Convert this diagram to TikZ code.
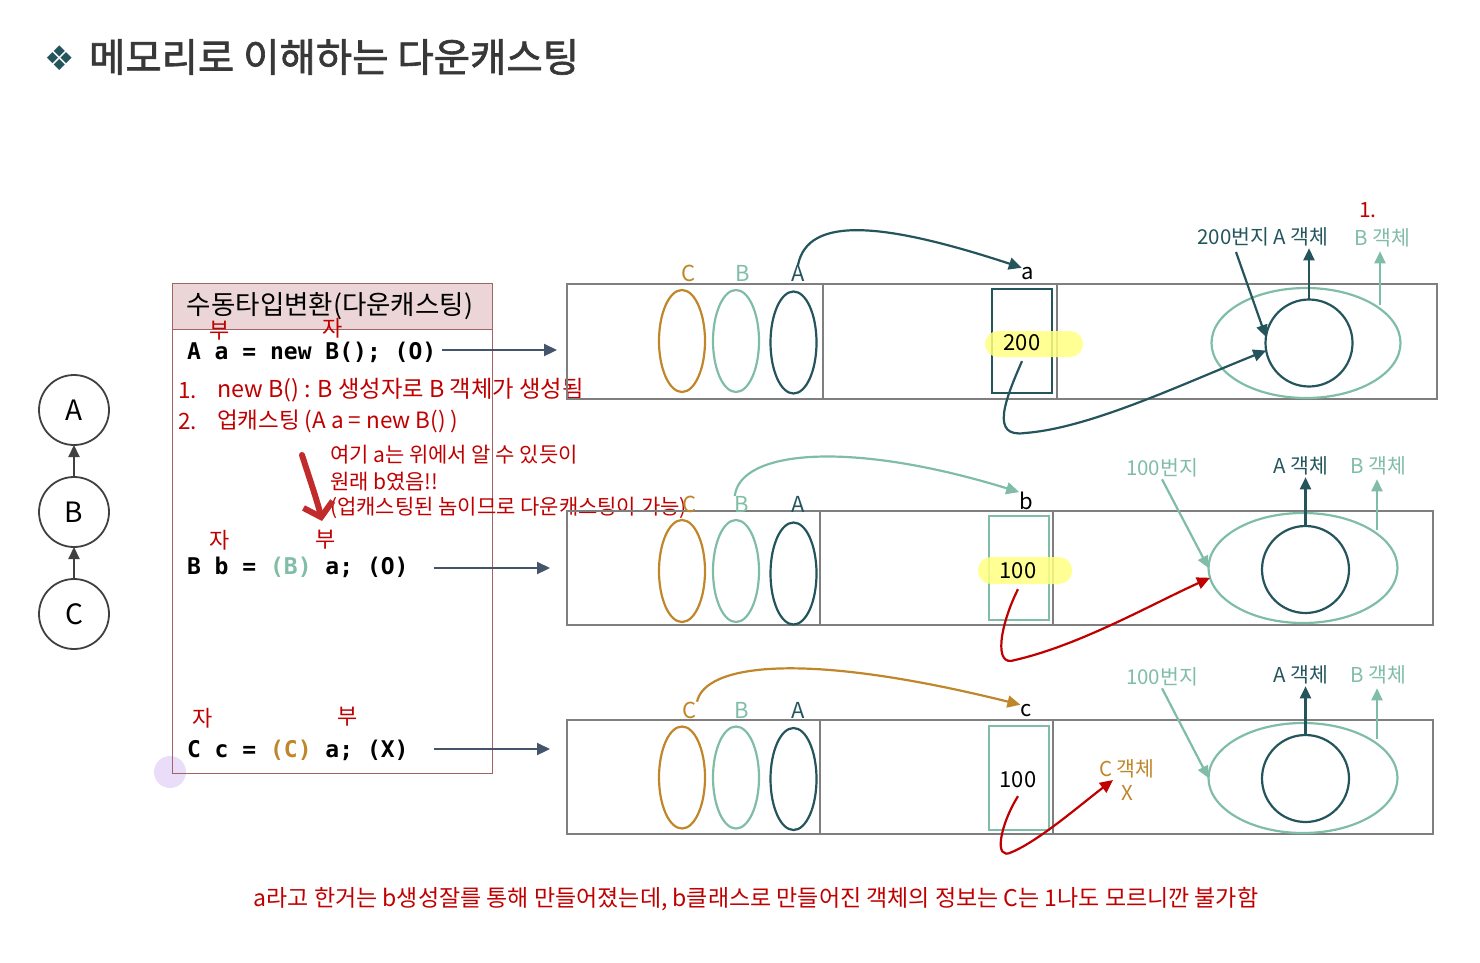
\documentclass[tikz,border=0pt]{standalone}
\usepackage{fontspec}
\setmainfont{Noto Sans CJK KR}
\newfontfamily\titlefont{Noto Sans CJK KR}[FakeBold=1.6]
\newfontfamily\codefont{DejaVu Sans Mono}
\newfontfamily\symfont{DejaVu Sans}
\usetikzlibrary{arrows.meta,shapes.geometric}
\definecolor{tealdk}{HTML}{24555D}
\definecolor{grn}{HTML}{80BDA6}
\definecolor{org}{HTML}{C0862A}
\definecolor{boxgray}{HTML}{7F7F7F}
\definecolor{redt}{HTML}{C00000}
\definecolor{bigred}{HTML}{C22B2B}
\definecolor{codearr}{HTML}{44546A}
\definecolor{pinkfill}{HTML}{EBD5D6}
\definecolor{pinkdraw}{HTML}{A06466}
\definecolor{hlyellow}{HTML}{FFFF80}
\definecolor{lilac}{HTML}{E4D4F8}
\definecolor{titlegray}{HTML}{383838}
\definecolor{hiergray}{HTML}{404040}
\newcommand\myfs[1]{\fontsize{#1}{#1}\selectfont}
\begin{document}
\begin{tikzpicture}[x=1pt,y=-1pt,
 every node/.style={inner sep=0pt,outer sep=0pt},
 memline/.style={draw=boxgray,line width=2.4pt},
 classell/.style={ellipse,draw,line width=2.2pt,minimum width=46pt,minimum height=102pt},
 varbox/.style={draw,line width=2pt,minimum width=60pt,minimum height=104pt},
 objell/.style={ellipse,draw=grn,line width=2.2pt,minimum width=189pt,minimum height=110pt},
 objcirc/.style={circle,draw=tealdk,line width=2.2pt,minimum size=87pt},
 lbl/.style={font=\myfs{22}},
 smlbl/.style={font=\myfs{20.5}},
 redlbl/.style={font=\myfs{22.5},text=redt},
 hl/.style={fill=hlyellow,rounded corners=13pt},
 tiparr/.style={line width=2.2pt,-{Triangle[length=12pt,width=11pt]}},
 curvearr/.style={line width=2.2pt,-{Triangle[length=13pt,width=12pt]}},
 codearrow/.style={draw=codearr,line width=2.2pt,-{Triangle[length=13pt,width=12pt]}},
 code/.style={font=\codefont\bfseries\myfs{23},anchor=west},
 hier/.style={circle,draw=hiergray,line width=1.8pt,minimum size=70pt,font=\myfs{28}},
]
\useasboundingbox (0,0) rectangle (1480,962);

% ---------- title ----------
\node[text=tealdk,font=\symfont\myfs{34}] (diam) at (60,58) {❖};
\node[anchor=west,text=titlegray,font=\titlefont\myfs{39.5}] (title) at (89,57) {메모리로 이해하는 다운캐스팅};

% ---------- hierarchy ----------
\node[hier] (hA) at (74,410) {A};
\node[hier] (hB) at (74,512) {B};
\node[hier] (hC) at (74,614) {C};
\draw[hiergray,tiparr] (hB.north) -- (hA.south);
\draw[hiergray,tiparr] (hC.north) -- (hB.south);

% ---------- code box ----------
\fill[lilac,opacity=0.8] (170,772) circle (16);
\draw[pinkdraw,line width=1pt] (172,283) rectangle (492,773);
\draw[pinkdraw,line width=1pt,fill=pinkfill] (172,283) rectangle (492,329);
\node[font=\myfs{26.5}] (hdr) at (330,306) {수동타입변환(다운캐스팅)};

\node[redlbl,font=\myfs{22}] (bu1) at (220,331) {부};
\node[redlbl,font=\myfs{22}] (ja1) at (333,328) {자};
\node[code] (code1) at (187,352) {A a = new B(); (O)};

\node[redlbl,anchor=west] (n1) at (178,391) {1.};
\node[redlbl,font=\myfs{23.3},anchor=west] (t1) at (217,390) {new B() : B 생성자로 B 객체가 생성됨};
\node[redlbl,anchor=west] (n2) at (178,421) {2.};
\node[redlbl,anchor=west] (t2) at (217,421) {업캐스팅 (A a = new B() )};

\node[redlbl,font=\myfs{21},anchor=west] (r1) at (330,455) {여기 a는 위에서 알 수 있듯이};
\node[redlbl,font=\myfs{21},anchor=west] (r2) at (330,482) {원래 b였음!!};
\node[redlbl,font=\myfs{21},anchor=west] (r3) at (330,508) {(업캐스팅된 놈이므로 다운캐스팅이 가능)};
\coordinate (bigs) at (302,455);
\coordinate (bige) at (322,521);
\draw[bigred,line width=6pt,line cap=round,-{Straight Barb[length=13pt,width=30pt]}] (bigs) .. controls (310,480) and (317,500) .. (bige);

\node[redlbl,font=\myfs{22}] (ja2) at (220,540) {자};
\node[redlbl,font=\myfs{22}] (bu2) at (326,540) {부};
\node[code] (code2) at (187,567) {B b = {\color{grn}(B)} a; (O)};

\node[redlbl,font=\myfs{22}] (ja3) at (203,718) {자};
\node[redlbl,font=\myfs{22}] (bu3) at (348,717) {부};
\node[code] (code3) at (187,750) {C c = {\color{org}(C)} a; (X)};

\coordinate (r1w) at (557,350);
\coordinate (r2w) at (550,568);
\coordinate (r3w) at (550,749);
\draw[codearrow] ([xshift=6pt]code1.east |- r1w) -- (r1w);
\draw[codearrow] ([xshift=25pt]code2.east |- r2w) -- (r2w);
\draw[codearrow] ([xshift=25pt]code3.east |- r3w) -- (r3w);

% ---------- row 1 ----------
\draw[memline] (567,284) rectangle (1437,399);
\draw[memline] (823,284) -- (823,399);
\draw[memline] (1057,284) -- (1057,399);
\node[classell,draw=org] (c1) at (682,341) {};
\node[classell,draw=grn] (b1) at (736,341) {};
\node[classell,draw=tealdk] (a1) at (793.5,342.5) {};
\node[lbl,text=org] (lC1) at (689,273) {C};
\node[lbl,text=grn] (lB1) at (743,273) {B};
\node[lbl,text=tealdk] (lA1) at (798,273) {A};
\node[varbox,draw=tealdk] (va) at (1022,341) {};
\fill[hl,opacity=0.85] (985,331) rectangle (1083,357);
\node[lbl] (v200) at (1022,343) {200};
\node[lbl] (na) at (1028,274) {a};
\node[objell] (e1) at (1306,343) {};
\node[objcirc] (o1) at (1309,343) {};
\node[smlbl,text=tealdk] (l1a) at (1263,237) {200번지 A 객체};
\node[smlbl,text=grn] (l1b) at (1382,238) {B 객체};
\node[redlbl,font=\myfs{21}] (one) at (1368,210) {1.};
\draw[tealdk,tiparr] (o1.north) -- ([yshift=-2pt]o1.north |- l1a.south);
\coordinate (b1s) at (1380,305);
\draw[grn,tiparr] (b1s) -- ([yshift=-4pt]b1s |- l1b.south);
\coordinate (p1s) at (1236,252);
\draw[tealdk,tiparr] (p1s) -- (o1.172);
\draw[tealdk,curvearr] (lA1.north) .. controls +(10,-50) and +(-137,-45) .. (na.north west);
\draw[tealdk,curvearr] ([yshift=-10pt]v200.south) .. controls (1005,400) and (990,438) .. (1025,433)
  .. controls (1090,428) and (1180,385) .. (o1.190);

% ---------- row 2 ----------
\draw[memline] (567,511) rectangle (1433,625);
\draw[memline] (820,511) -- (820,625);
\draw[memline] (1053,511) -- (1053,625);
\node[classell,draw=org] (c2) at (682,571) {};
\node[classell,draw=grn] (b2) at (736,571) {};
\node[classell,draw=tealdk] (a2) at (793.5,573.5) {};
\node[lbl,text=org] (lC2) at (690,504) {C};
\node[lbl,text=grn] (lB2) at (742,504) {B};
\node[lbl,text=tealdk] (lA2) at (798,504) {A};
\node[varbox,draw=grn] (vb) at (1018.5,568) {};
\fill[hl,opacity=0.85] (978,557) rectangle (1072,584);
\node[lbl] (v100b) at (1018,571) {100};
\node[lbl] (nb) at (1026,501) {b};
\node[objell] (e2) at (1303,568) {};
\node[objcirc] (o2) at (1305.5,569.5) {};
\node[smlbl,text=tealdk] (l2a) at (1301,466) {A 객체};
\node[smlbl,text=grn] (l2b) at (1378,466) {B 객체};
\node[smlbl,text=grn] (l2n) at (1162,468) {100번지};
\draw[tealdk,tiparr] (o2.north) -- ([yshift=-2pt]o2.north |- l2a.south);
\coordinate (b2s) at (1377,530);
\draw[grn,tiparr] (b2s) -- ([yshift=-4pt]b2s |- l2b.south);
\draw[grn,tiparr] ([yshift=-2pt]l2n.south) -- (e2.west);
\draw[grn,curvearr] (lB2.north west) .. controls (740,450) and (850,440) .. (nb.north west);
\draw[redt,curvearr] ([yshift=-10pt]v100b.south) .. controls (1000,625) and (993,668) .. (1015,660)
  .. controls (1080,645) and (1150,605) .. (e2.186);

% ---------- row 3 ----------
\draw[memline] (567,720) rectangle (1433,834);
\draw[memline] (820,720) -- (820,834);
\draw[memline] (1053,720) -- (1053,834);
\node[classell,draw=org] (c3) at (682,777.5) {};
\node[classell,draw=grn] (b3) at (736,777.5) {};
\node[classell,draw=tealdk] (a3) at (793.5,779) {};
\node[lbl,text=org] (lC3) at (690,710) {C};
\node[lbl,text=grn] (lB3) at (742,710) {B};
\node[lbl,text=tealdk] (lA3) at (798,710) {A};
\node[varbox,draw=grn] (vc) at (1018.5,777.5) {};
\node[lbl] (v100c) at (1018,780) {100};
\node[lbl] (nc) at (1026,711) {c};
\node[objell] (e3) at (1303,778) {};
\node[objcirc] (o3) at (1305.5,778.5) {};
\node[smlbl,text=tealdk] (l3a) at (1301,675) {A 객체};
\node[smlbl,text=grn] (l3b) at (1378,675) {B 객체};
\node[smlbl,text=grn] (l3n) at (1162,677) {100번지};
\node[smlbl,text=org] (cobj) at (1127,769) {C 객체};
\node[smlbl,text=org] (xm) at (1127,793) {X};
\draw[tealdk,tiparr] (o3.north) -- ([yshift=-2pt]o3.north |- l3a.south);
\coordinate (b3s) at (1377,739);
\draw[grn,tiparr] (b3s) -- ([yshift=-4pt]b3s |- l3b.south);
\draw[grn,tiparr] ([yshift=-2pt]l3n.south) -- (e3.west);
\draw[org,curvearr] (lC3.north east) .. controls (705,665) and (800,650) .. (nc.north west);
\coordinate (cx) at (1113,780);
\draw[redt,curvearr] ([yshift=-8pt]v100c.south) .. controls (1000,825) and (993,862) .. (1012,852)
  .. controls (1040,840) and (1080,805) .. (cx);

% ---------- bottom note ----------
\node[redlbl,font=\myfs{23}] (note) at (756,899) {a라고 한거는 b생성잘를 통해 만들어졌는데, b클래스로 만들어진 객체의 정보는 C는 1나도 모르니깐 불가함};
\end{tikzpicture}
\end{document}
